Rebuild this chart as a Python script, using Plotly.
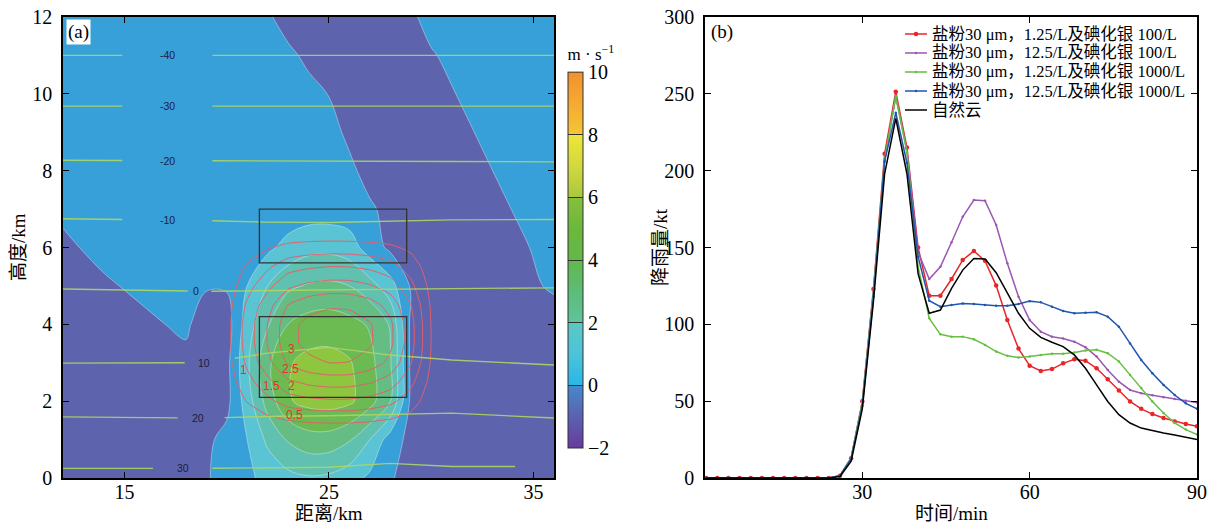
import numpy as np
import plotly.graph_objects as go

W, H = 1212, 525
FONT = "Liberation Serif, 'Noto Sans CJK SC', serif"
SANS = "Liberation Sans, Arial, sans-serif"

# ---------------- panel (a) data ----------------
# vertical velocity w (m/s), columns = distance (km), rows = height (km)
x_w = [12, 14, 16, 18, 19, 20, 21, 22, 23, 24, 25, 26, 27, 28, 29, 30, 32, 34, 36]
y_w = [0, 1, 2, 3, 4, 5, 6, 7, 8, 9, 10, 11, 12]
w_0 = [-0.5, -0.5, -0.5, -0.5, -0.1, 0.4, 0.8, 1.3, 1.7, 1.9, 1.8, 1.4, 0.8, 0.1, -0.4, -0.5, -0.5, -0.5, -0.5]
w_1 = [-0.5, -0.5, -0.5, -0.5, -0.2, 0.3, 1.0, 2.2, 3.1, 3.6, 3.6, 3.1, 2.0, 0.5, -0.3, -0.5, -0.5, -0.5, -0.5]
w_2 = [-0.5, -0.5, -0.5, -0.5, -0.5, -0.3, 1.5, 3.4, 4.9, 5.3, 5.4, 5.2, 4.4, 3.0, -0.2, -0.5, -0.5, -0.5, -0.5]
w_3 = [-0.5, -0.4, -0.3, -0.3, -0.5, -0.3, 1.8, 3.8, 4.9, 5.3, 5.35, 5.1, 4.3, 3.1, -0.2, -0.5, -0.5, -0.5, -0.5]
w_4 = [-0.4, -0.3, -0.2, 0.2, -0.6, -0.5, 1.5, 2.9, 4.0, 4.4, 4.5, 4.3, 3.9, 2.9, -0.2, -0.5, -0.5, -0.5, -0.5]
w_5 = [-0.4, -0.15, 0.25, 0.4, 0.1, 0.1, 1.0, 2.0, 2.8, 3.1, 3.2, 3.0, 2.4, 1.4, -0.1, -0.4, -0.5, -0.4, 0.15]
w_6 = [-0.2, 0.3, 0.4, 0.45, 0.45, 0.45, 0.5, 0.8, 1.3, 1.7, 1.75, 1.5, 0.5, -0.2, -0.4, -0.4, -0.4, -0.2, 0.3]
w_7 = [0.2, 0.4, 0.4, 0.45, 0.45, 0.45, 0.45, 0.45, 0.45, 0.5, 0.5, 0.4, 0.1, -0.2, -0.4, -0.4, -0.35, 0.02, 0.35]
w_8 = [0.4, 0.4, 0.4, 0.4, 0.4, 0.4, 0.4, 0.4, 0.4, 0.4, 0.4, 0.15, -0.25, -0.4, -0.4, -0.4, -0.2, 0.2, 0.4]
w_9 = [0.4, 0.4, 0.4, 0.4, 0.4, 0.4, 0.4, 0.4, 0.4, 0.4, 0.25, -0.15, -0.4, -0.4, -0.4, -0.4, -0.02, 0.3, 0.4]
w_10 = [0.4, 0.4, 0.4, 0.4, 0.4, 0.4, 0.4, 0.4, 0.4, 0.2, -0.02, -0.4, -0.4, -0.4, -0.4, -0.3, 0.2, 0.4, 0.4]
w_11 = [0.4, 0.4, 0.4, 0.4, 0.4, 0.4, 0.4, 0.4, 0.15, -0.15, -0.4, -0.4, -0.4, -0.4, -0.3, -0.05, 0.3, 0.4, 0.4]
w_12 = [0.4, 0.4, 0.4, 0.4, 0.4, 0.35, 0.3, 0.1, -0.3, -0.4, -0.4, -0.4, -0.4, -0.3, -0.1, 0.2, 0.4, 0.4, 0.4]
w_rows = [w_0, w_1, w_2, w_3, w_4, w_5, w_6, w_7, w_8, w_9, w_10, w_11, w_12]

# red contour field (labelled 0.5 ... 3)
x_q = [19, 20, 21, 22, 23, 24, 25, 26, 27, 28, 29, 30, 31]
y_q = [0.5, 1.0, 1.5, 2.0, 2.5, 3.0, 3.5, 4.0, 4.5, 5.0, 5.5, 6.0, 6.5, 7.0]
q_05 = [0, 0, 0, 0, 0, 0, 0, 0, 0, 0, 0, 0, 0]
q_10 = [0, 0, 0, 0, 0, 0, 0, 0, 0, 0, 0, 0, 0]
q_15 = [0, 0.06, 0.22, 0.36, 0.50, 0.56, 0.58, 0.58, 0.54, 0.46, 0.30, 0.09, 0]
q_20 = [0, 0.14, 0.52, 0.87, 1.22, 1.36, 1.42, 1.41, 1.31, 1.12, 0.73, 0.21, 0]
q_25 = [0, 0.21, 0.81, 1.35, 1.90, 2.12, 2.21, 2.20, 2.05, 1.75, 1.14, 0.33, 0]
q_30 = [0, 0.29, 1.10, 1.83, 2.58, 2.87, 3.00, 2.98, 2.78, 2.37, 1.54, 0.44, 0]
q_35 = [0, 0.32, 1.21, 2.02, 2.83, 3.15, 3.30, 3.28, 3.06, 2.61, 1.70, 0.49, 0]
q_40 = [0, 0.32, 1.21, 2.01, 2.82, 3.14, 3.28, 3.26, 3.04, 2.60, 1.69, 0.48, 0]
q_45 = [0, 0.28, 1.08, 1.79, 2.51, 2.80, 2.93, 2.91, 2.71, 2.32, 1.51, 0.43, 0]
q_50 = [0, 0.21, 0.81, 1.35, 1.90, 2.12, 2.21, 2.20, 2.05, 1.75, 1.14, 0.33, 0]
q_55 = [0, 0.15, 0.55, 0.92, 1.29, 1.43, 1.50, 1.49, 1.39, 1.19, 0.77, 0.22, 0]
q_60 = [0, 0.07, 0.28, 0.46, 0.64, 0.72, 0.75, 0.74, 0.69, 0.59, 0.39, 0.11, 0]
q_65 = [0, 0, 0, 0, 0, 0, 0, 0, 0, 0, 0, 0, 0]
q_70 = [0, 0, 0, 0, 0, 0, 0, 0, 0, 0, 0, 0, 0]
q_rows = [q_05, q_10, q_15, q_20, q_25, q_30, q_35, q_40, q_45, q_50, q_55, q_60, q_65, q_70]
q_label_text = ["3", "2.5", "2", "1.5", "1", "0.5"]
q_label_x = [23.15, 23.1, 23.15, 22.2, 20.8, 23.3]
q_label_y = [3.36, 2.84, 2.4, 2.4, 2.8, 1.64]

# isotherms (deg C): height (km) of each isotherm at iso_x
iso_levels = [-40, -30, -20, -10, 0, 10, 20, 30]
iso_x = [12, 19, 22, 25, 28, 31, 36]
iso_y = [
    [11.0, 11.0, 11.0, 11.0, 11.0, 11.0, 11.0],
    [9.68, 9.68, 9.68, 9.68, 9.68, 9.68, 9.68],
    [8.27, 8.26, 8.25, 8.25, 8.24, 8.24, 8.23],
    [6.75, 6.70, 6.66, 6.65, 6.68, 6.72, 6.73],
    [4.92, 4.86, 4.88, 4.90, 4.92, 4.93, 4.95],
    [2.99, 3.00, 3.25, 3.40, 3.20, 3.07, 2.94],
    [1.59, 1.56, 1.60, 1.62, 1.66, 1.69, 1.56],
    [0.25, 0.25, 0.27, 0.28, 0.38, 0.30, 0.30],
]
iso_label_x = [17.1, 17.1, 17.1, 17.1, 18.5, 18.9, 18.6, 17.85]
iso_gap_lo = [14.9, 14.9, 14.9, 14.9, 18.1, 17.95, 17.6, 16.4]
iso_gap_hi = [19.3, 19.3, 19.3, 19.3, 19.25, 20.4, 19.9, 19.3]
iso_end = [36, 36, 36, 36, 36, 36, 36, 34.1]

# boxes (km)
box_x0 = [21.6, 21.6]
box_x1 = [28.8, 28.8]
box_y0 = [5.6, 2.1]
box_y1 = [7.0, 4.2]

# ---------------- panel (b) data ----------------
t_min = [2, 4, 6, 8, 10, 12, 14, 16, 18, 20, 22, 24, 26, 28, 30, 32, 34, 36, 38, 40, 42, 44,
         46, 48, 50, 52, 54, 56, 58, 60, 62, 64, 66, 68, 70, 72, 74, 76, 78, 80, 82, 84, 86, 88, 90]
red = [0, 0, 0, 0, 0, 0, 0, 0, 0, 0, 0, 0, 1.5, 12.8, 50, 123, 211, 251.4, 215, 150, 118.6, 118.6,
       129.5, 141.9, 147.7, 141.3, 125.2, 102.8, 84.2, 73.1, 69.6, 70.9, 74.6, 77.2, 76.3, 71.4, 64.3,
       57, 49.8, 45, 41.6, 39, 36.8, 35.1, 33.6]
purple = [0, 0, 0, 0, 0, 0, 0, 0, 0, 0, 0, 0, 1.5, 13, 49, 122, 207, 248, 213, 147, 129.5, 137.5,
          153.4, 170, 180.9, 180.5, 164.6, 139.7, 118, 102.8, 95.2, 91.9, 90.8, 88.7, 85.1, 79, 70.3,
          62.7, 57.3, 55.1, 53.8, 52.5, 51.4, 50.3, 49.2]
green = [0, 0, 0, 0, 0, 0, 0, 0, 0, 0, 0, 0, 1.5, 13, 49, 121, 207, 248.6, 212, 137.5, 103.9, 93.5,
         92, 92, 90.3, 86.6, 82.3, 79.5, 78.4, 79, 80.1, 80.8, 80.8, 81.6, 82.9, 83.4, 81.2,
         75.8, 67.1, 58.5, 49.8, 42.3, 35.8, 31.5, 28.3]
blue = [0, 0, 0, 0, 0, 0, 0, 0, 0, 0, 0, 0, 1.5, 12.5, 47, 118, 206, 237.7, 205, 144, 115.4, 111.5,
        112.6, 113.6, 113.2, 112.6, 112.1, 112.1, 113.2, 115.1, 114.3, 111.5, 108.7, 107.2, 107.6,
        107.8, 105, 98.5, 87.6, 76.8, 68.1, 60.6, 54, 48.6, 45]
black = [0, 0, 0, 0, 0, 0, 0, 0, 0, 0, 0, 0, 1, 11, 45, 115, 198, 234, 198, 133, 107.2, 109.3,
         123.4, 135.3, 142.9, 142.5, 133.6, 120.2, 107.2, 97.4, 91.5, 88.3, 85.5, 80.1, 71.4, 60.6,
         49.8, 41.2, 35.8, 32.5, 30.8, 29.3, 28, 26.7, 25]
series_names = [
    "盐粉30 μm，1.25/L及碘化银 100/L",
    "盐粉30 μm，12.5/L及碘化银 100/L",
    "盐粉30 μm，1.25/L及碘化银 1000/L",
    "盐粉30 μm，12.5/L及碘化银 1000/L",
    "自然云",
]
series_vals = [red, purple, green, blue, black]
series_colors = ["#e8262a", "#9b57b2", "#66bf44", "#2156b0", "#000000"]
series_msize = [4.5, 2.5, 2.5, 2.5, 0]

# ---------------- figure ----------------
def PX(px):
    return px / W


def PY(py):
    return 1 - py / H


fig = go.Figure()

fill_scale = [
    [0 / 7, "#5d63ad"], [1 / 7, "#37a0d8"], [2 / 7, "#5bc4d4"], [3 / 7, "#61c1b0"],
    [4 / 7, "#66bd84"], [5 / 7, "#6bba52"], [6 / 7, "#8ec63f"], [7 / 7, "#b5cf3c"],
]
fig.add_trace(go.Contour(
    x=x_w, y=y_w, z=w_rows, autocontour=False,
    contours=dict(start=0, end=6, size=1, coloring="fill", showlines=True),
    line=dict(color="rgba(235,245,250,0.5)", width=0.8, smoothing=1),
    colorscale=fill_scale, showscale=False, hoverinfo="skip", showlegend=False,
    xaxis="x", yaxis="y",
))

fig.add_trace(go.Contour(
    x=x_q, y=y_q, z=q_rows, autocontour=False,
    contours=dict(start=0.5, end=3, size=0.5, coloring="none", showlabels=False),
    line=dict(color="#e2606a", width=1, smoothing=0.5),
    showscale=False, hoverinfo="skip", showlegend=False, xaxis="x", yaxis="y",
))

# isotherm lines with label gaps
iso_ann = []
for i, lev in enumerate(iso_levels):
    xs_all = np.array(iso_x, dtype=float)
    ys_all = np.array(iso_y[i], dtype=float)
    lo, hi, end = iso_gap_lo[i], iso_gap_hi[i], iso_end[i]
    lx = [v for v in iso_x if v < lo] + [lo]
    rx = [hi] + [v for v in iso_x if hi < v < end] + [end]
    ly = list(np.interp(lx, xs_all, ys_all))
    ry = list(np.interp(rx, xs_all, ys_all))
    fig.add_trace(go.Scatter(
        x=lx + [None] + rx, y=ly + [None] + ry, mode="lines",
        line=dict(color="rgba(172,214,100,0.9)", width=1.4),
        showlegend=False, hoverinfo="skip", xaxis="x", yaxis="y",
    ))
    ylab = float(np.interp(iso_label_x[i], xs_all, ys_all))
    iso_ann.append(dict(
        x=iso_label_x[i], y=ylab, xref="x", yref="y", text=str(lev), showarrow=False,
        xanchor="center", yanchor="middle",
        font=dict(family=SANS, size=10.5, color="#1d1d3c"),
    ))

# dummy trace carrying the colour bar of panel (a)
cb_scale = [
    [0.0, "#6a3a9c"], [0.0833, "#5a62b0"], [0.1660, "#4589cc"], [0.1667, "#2ab6e8"],
    [0.25, "#4cc3da"], [0.3330, "#5cc8c4"], [0.3334, "#5ec49c"], [0.4167, "#5dbc78"],
    [0.5, "#62b84a"], [0.5833, "#6cb83c"], [0.6660, "#86bf3c"], [0.6667, "#a9c83e"],
    [0.75, "#d2d93e"], [0.8330, "#f0e43a"], [0.8334, "#f6c535"], [0.9167, "#f5aa32"],
    [1.0, "#f39030"],
]
fig.add_trace(go.Scatter(
    x=[None], y=[None], mode="markers", showlegend=False, hoverinfo="skip",
    marker=dict(
        color=[0], cmin=-2, cmax=10, colorscale=cb_scale, showscale=True,
        colorbar=dict(
            x=PX(568), xanchor="left", y=PY(246.5), yanchor="middle",
            len=403, lenmode="pixels", thickness=15, thicknessmode="pixels",
            xpad=0, ypad=0, outlinewidth=1, outlinecolor="#333",
            tickvals=[-2, 0, 2, 4, 6, 8, 10], ticks="inside", ticklen=15,
            tickcolor="#333", tickwidth=1,
            tickfont=dict(family=FONT, size=20, color="black"),
            title=dict(text="m · s<sup>−1</sup>", side="top",
                       font=dict(family=FONT, size=17, color="black")),
        ),
    ),
    xaxis="x", yaxis="y",
))

# panel (b) series
for name, vals, col, ms in zip(series_names, series_vals, series_colors, series_msize):
    fig.add_trace(go.Scatter(
        x=t_min, y=vals, name=name,
        mode="lines+markers" if ms > 0 else "lines",
        line=dict(color=col, width=1.5),
        marker=dict(size=ms, color=col) if ms > 0 else None,
        xaxis="x2", yaxis="y2", hoverinfo="skip", showlegend=False,
    ))

shapes = []
for x0, x1, y0, y1 in zip(box_x0, box_x1, box_y0, box_y1):
    shapes.append(dict(type="rect", xref="x", yref="y", x0=x0, x1=x1, y0=y0, y1=y1,
                       line=dict(color="#333333", width=1.3), fillcolor="rgba(0,0,0,0)"))

annotations = iso_ann[:]
for txt, xx, yy in zip(q_label_text, q_label_x, q_label_y):
    annotations.append(dict(x=xx, y=yy, xref="x", yref="y", text=txt, showarrow=False,
                            xanchor="center", yanchor="middle",
                            font=dict(family=SANS, size=12, color="#e0352e")))

# hand-made legend for panel (b) (sample line, marker, text)
leg_y = [34, 53, 72, 91, 110]
for name, col, ms, yy in zip(series_names, series_colors, series_msize, leg_y):
    shapes.append(dict(type="line", xref="paper", yref="paper",
                       x0=PX(905), x1=PX(927), y0=PY(yy), y1=PY(yy),
                       line=dict(color=col, width=1.5)))
    if ms > 0:
        r = ms / 2.0
        shapes.append(dict(type="circle", xref="paper", yref="paper",
                           x0=PX(916 - r), x1=PX(916 + r), y0=PY(yy + r), y1=PY(yy - r),
                           line=dict(color=col, width=0), fillcolor=col))
    annotations.append(dict(x=PX(930), y=PY(yy), xref="paper", yref="paper",
                            xanchor="left", yanchor="middle", text=name, showarrow=False,
                            font=dict(family=FONT, size=16.5, color="black")))

annotations += [
    dict(x=PX(66), y=PY(19), xref="paper", yref="paper", xanchor="left", yanchor="top",
         text="(a)", showarrow=False, bgcolor="white", borderpad=1,
         font=dict(family=FONT, size=19, color="black")),
    dict(x=PX(709), y=PY(19), xref="paper", yref="paper", xanchor="left", yanchor="top",
         text="(b)", showarrow=False, font=dict(family=FONT, size=19, color="black")),
    dict(x=PX(329), y=PY(513), xref="paper", yref="paper", text="距离/km", showarrow=False,
         xanchor="center", yanchor="middle", font=dict(family=FONT, size=19, color="black")),
    dict(x=PX(18), y=PY(247), xref="paper", yref="paper", text="高度/km", showarrow=False,
         xanchor="center", yanchor="middle", textangle=-90,
         font=dict(family=FONT, size=19, color="black")),
    dict(x=PX(951), y=PY(513), xref="paper", yref="paper", text="时间/min", showarrow=False,
         xanchor="center", yanchor="middle", font=dict(family=FONT, size=19, color="black")),
    dict(x=PX(660), y=PY(247), xref="paper", yref="paper", text="降雨量/kt", showarrow=False,
         xanchor="center", yanchor="middle", textangle=-90,
         font=dict(family=FONT, size=19, color="black")),
]

axis_common = dict(
    showline=True, linecolor="black", linewidth=1.5, mirror="ticks",
    ticks="inside", ticklen=6, tickwidth=1.2, tickcolor="black",
    showgrid=False, zeroline=False, automargin=False,
    tickfont=dict(family=FONT, size=20, color="black"),
)

fig.update_layout(
    width=W, height=H,
    margin=dict(l=0, r=0, t=0, b=0),
    paper_bgcolor="white", plot_bgcolor="white",
    showlegend=False,
    xaxis=dict(domain=[PX(63), PX(554)], range=[12, 36], tickvals=[15, 25, 35],
               anchor="y", ticklabelstandoff=-5, **axis_common),
    yaxis=dict(domain=[PY(478), PY(17)], range=[0, 12], tickvals=[0, 2, 4, 6, 8, 10, 12],
               anchor="x", ticklabelstandoff=5, **axis_common),
    xaxis2=dict(domain=[PX(705), PX(1197)], range=[1.8, 90], tickvals=[30, 60, 90],
                anchor="y2", ticklabelstandoff=-5, **axis_common),
    yaxis2=dict(domain=[PY(478), PY(17)], range=[0, 300],
                tickvals=[0, 50, 100, 150, 200, 250, 300],
                anchor="x2", ticklabelstandoff=5, **axis_common),
    shapes=shapes,
    annotations=annotations,
)

fig.write_html("out.html", config={"displayModeBar": False},
               post_script="document.body.style.margin='0';document.body.style.overflow='hidden';")
